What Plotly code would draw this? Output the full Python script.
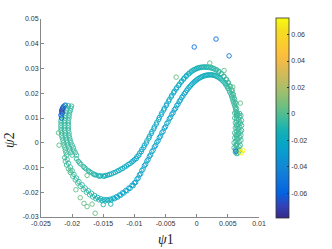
import plotly.graph_objects as go

# ---- data: (psi1, psi2, colour value) ----
left_band_L = [(-0.0212,0.0150,-0.004),(-0.0214,0.0140,-0.005),(-0.0215,0.0130,-0.004),(-0.0216,0.0120,-0.006),(-0.0217,0.0110,-0.004),
               (-0.0217,0.0100,-0.005),(-0.0218,0.0090,-0.003),(-0.0218,0.0080,-0.005),(-0.0218,0.0070,-0.004),(-0.0218,0.0060,-0.006),
               (-0.0218,0.0050,-0.004),(-0.0217,0.0040,-0.005),(-0.0217,0.0030,-0.003),(-0.0216,0.0020,-0.004),(-0.0215,0.0010,-0.005),
               (-0.0214,0.0000,-0.003),(-0.0213,-0.0010,-0.004),(-0.0212,-0.0020,-0.002),(-0.0211,-0.0030,-0.004),(-0.0210,-0.0040,-0.003),(-0.0209,-0.0050,-0.004)]
left_band_C = [(-0.0206,0.0150,-0.006),(-0.0208,0.0140,-0.005),(-0.0209,0.0130,-0.006),(-0.0210,0.0120,-0.005),(-0.0211,0.0110,-0.006),
               (-0.0211,0.0100,-0.005),(-0.0212,0.0090,-0.006),(-0.0212,0.0080,-0.004),(-0.0212,0.0070,-0.005),(-0.0212,0.0060,-0.006),
               (-0.0212,0.0050,-0.005),(-0.0211,0.0040,-0.004),(-0.0211,0.0030,-0.005),(-0.0210,0.0020,-0.006),(-0.0209,0.0010,-0.004),
               (-0.0208,0.0000,-0.005),(-0.0207,-0.0010,-0.005),(-0.0205,-0.0020,-0.004),(-0.0204,-0.0030,-0.005),(-0.0202,-0.0040,-0.004),(-0.0200,-0.0050,-0.005)]
left_band_R = [(-0.0201,0.0148,-0.007),(-0.0202,0.0140,-0.006),(-0.0203,0.0130,-0.007),(-0.0204,0.0120,-0.006),(-0.0205,0.0110,-0.005),
               (-0.0205,0.0100,-0.006),(-0.0206,0.0090,-0.005),(-0.0206,0.0080,-0.006),(-0.0206,0.0070,-0.005),(-0.0206,0.0060,-0.006),
               (-0.0206,0.0050,-0.005),(-0.0205,0.0040,-0.006),(-0.0205,0.0030,-0.005),(-0.0204,0.0020,-0.006),(-0.0203,0.0010,-0.005),
               (-0.0202,0.0000,-0.006),(-0.0200,-0.0010,-0.005),(-0.0198,-0.0020,-0.006),(-0.0197,-0.0030,-0.005),(-0.0195,-0.0040,-0.006),(-0.0193,-0.0050,-0.005)]
start_cluster = [(-0.0216,0.0135,-0.076),(-0.0217,0.0128,-0.072),(-0.0216,0.0121,-0.068),(-0.0215,0.0141,-0.064),
                 (-0.0218,0.0112,-0.060),(-0.0217,0.0100,-0.056),(-0.0214,0.0146,-0.052),(-0.0211,0.0152,-0.048)]

upper_curve = [(-0.0193,-0.0065,-0.004),(-0.0190,-0.0075,-0.005),(-0.0186,-0.0086,-0.004),(-0.0182,-0.0096,-0.006),(-0.0178,-0.0105,-0.005),
               (-0.0174,-0.0113,-0.007),(-0.0170,-0.0120,-0.006),(-0.0166,-0.0126,-0.009),(-0.0162,-0.0130,-0.007),(-0.0158,-0.0133,-0.010),
               (-0.0154,-0.0134,-0.011),(-0.0150,-0.0134,-0.009),(-0.0146,-0.0132,-0.013),(-0.0140,-0.0128,-0.015),(-0.0134,-0.0122,-0.012),
               (-0.0128,-0.0115,-0.017),(-0.0122,-0.0107,-0.015),(-0.0116,-0.0098,-0.019),(-0.0110,-0.0088,-0.017),(-0.0104,-0.0077,-0.021),
               (-0.0100,-0.0068,-0.019),(-0.0096,-0.0056,-0.022),(-0.0092,-0.0042,-0.012),(-0.0088,-0.0027,-0.023),(-0.0084,-0.0010,-0.020),
               (-0.0080,0.0008,-0.008),(-0.0076,0.0026,-0.022),(-0.0072,0.0045,-0.019),(-0.0068,0.0064,-0.023),(-0.0064,0.0083,-0.008),
               (-0.0060,0.0102,-0.021),(-0.0056,0.0121,-0.023),(-0.0052,0.0139,-0.018),(-0.0048,0.0157,-0.022),(-0.0044,0.0175,-0.009),
               (-0.0040,0.0192,-0.021),(-0.0036,0.0208,-0.019),(-0.0032,0.0223,-0.022),(-0.0028,0.0237,-0.008),(-0.0024,0.0250,-0.018),
               (-0.0020,0.0262,-0.012),(-0.0016,0.0273,-0.015),(-0.0012,0.0282,-0.008),(-0.0008,0.0290,-0.012),(-0.0004,0.0296,-0.007),
               (0.0000,0.0301,-0.010),(0.0004,0.0304,-0.006),(0.0008,0.0306,-0.009),(0.0012,0.0307,-0.005),(0.0016,0.0307,-0.008),
               (0.0020,0.0306,-0.004),(0.0024,0.0304,-0.007),(0.0028,0.0300,-0.003),(0.0032,0.0295,-0.006),(0.0036,0.0288,-0.003),
               (0.0040,0.0279,-0.005),(0.0044,0.0268,-0.002),(0.0048,0.0255,-0.004),(0.0051,0.0242,-0.002),(0.0054,0.0227,-0.003),
               (0.0057,0.0210,-0.001),(0.0059,0.0193,-0.003),(0.0061,0.0175,-0.002),(0.0063,0.0157,-0.003),(0.0064,0.0139,-0.002),(0.0065,0.0121,-0.003)]
upper_curve_b = [(-0.0188,-0.0082,-0.006),(-0.0180,-0.0101,-0.007),(-0.0172,-0.0117,-0.009),(-0.0164,-0.0129,-0.011),(-0.0156,-0.0135,-0.013),
                 (-0.0148,-0.0135,-0.015),(-0.0143,-0.0131,-0.017),(-0.0137,-0.0126,-0.019),(-0.0131,-0.0120,-0.017),(-0.0125,-0.0112,-0.021),
                 (-0.0119,-0.0104,-0.019),(-0.0113,-0.0094,-0.023),(-0.0107,-0.0084,-0.021),(-0.0102,-0.0074,-0.024),
                 (-0.0097,-0.0064,-0.025),(-0.0093,-0.0051,-0.023),(-0.0089,-0.0036,-0.026),(-0.0085,-0.0019,-0.024),(-0.0081,-0.0001,-0.027),
                 (-0.0077,0.0018,-0.023),(-0.0073,0.0037,-0.026),(-0.0069,0.0056,-0.024),(-0.0065,0.0075,-0.027),(-0.0061,0.0094,-0.023),
                 (-0.0057,0.0113,-0.026),(-0.0053,0.0132,-0.024),(-0.0049,0.0150,-0.027),(-0.0045,0.0168,-0.023),(-0.0041,0.0185,-0.026),
                 (-0.0037,0.0202,-0.024),(-0.0033,0.0217,-0.025),(-0.0029,0.0231,-0.022),(-0.0025,0.0245,-0.024),(-0.0021,0.0257,-0.020),
                 (-0.0017,0.0268,-0.022),(-0.0013,0.0278,-0.018),(-0.0009,0.0286,-0.020),(-0.0005,0.0293,-0.016),(-0.0001,0.0298,-0.018),
                 (0.0003,0.0302,-0.014),(0.0007,0.0304,-0.015),(0.0011,0.0305,-0.012),(0.0015,0.0305,-0.013),(0.0019,0.0304,-0.010),
                 (0.0023,0.0302,-0.011),(0.0027,0.0299,-0.008),(0.0031,0.0294,-0.009),(0.0035,0.0287,-0.006),(0.0039,0.0279,-0.007),
                 (0.0043,0.0268,-0.004),(0.0047,0.0256,-0.005),(0.0050,0.0244,-0.003),(0.0053,0.0230,-0.004),(0.0056,0.0214,-0.002),
                 (0.0058,0.0198,-0.003),(0.0060,0.0181,-0.002),(0.0062,0.0163,-0.003)]

lower_curve = [(-0.0212,-0.0060,-0.003),(-0.0211,-0.0075,-0.002),(-0.0209,-0.0090,-0.003),(-0.0206,-0.0105,-0.001),(-0.0203,-0.0120,-0.003),
               (-0.0199,-0.0135,-0.002),(-0.0195,-0.0150,-0.004),(-0.0191,-0.0163,-0.002),(-0.0187,-0.0176,-0.004),(-0.0182,-0.0189,-0.003),
               (-0.0177,-0.0200,-0.005),(-0.0172,-0.0210,-0.004),(-0.0167,-0.0219,-0.007),(-0.0162,-0.0226,-0.006),(-0.0157,-0.0231,-0.010),
               (-0.0152,-0.0234,-0.009),(-0.0147,-0.0235,-0.013),(-0.0142,-0.0234,-0.011),(-0.0137,-0.0231,-0.016),(-0.0132,-0.0226,-0.014),
               (-0.0127,-0.0220,-0.019),(-0.0122,-0.0212,-0.017),(-0.0117,-0.0203,-0.021),(-0.0112,-0.0194,-0.019),(-0.0107,-0.0184,-0.023),
               (-0.0102,-0.0173,-0.020),(-0.0098,-0.0160,-0.024),(-0.0094,-0.0143,-0.021),(-0.0090,-0.0125,-0.025),(-0.0086,-0.0106,-0.010),
               (-0.0082,-0.0087,-0.024),(-0.0078,-0.0068,-0.022),(-0.0074,-0.0049,-0.025),(-0.0070,-0.0030,-0.012),(-0.0066,-0.0011,-0.024),
               (-0.0062,0.0008,-0.023),(-0.0058,0.0027,-0.025),(-0.0054,0.0046,-0.021),(-0.0050,0.0065,-0.024),(-0.0046,0.0084,-0.011),
               (-0.0042,0.0103,-0.023),(-0.0038,0.0121,-0.025),(-0.0034,0.0139,-0.022),(-0.0030,0.0156,-0.024),(-0.0026,0.0173,-0.020),
               (-0.0022,0.0189,-0.023),(-0.0018,0.0204,-0.021),(-0.0014,0.0218,-0.022),(-0.0010,0.0230,-0.019),(-0.0006,0.0241,-0.020),
               (-0.0002,0.0250,-0.017),(0.0002,0.0258,-0.018),(0.0006,0.0264,-0.015),(0.0010,0.0269,-0.016),(0.0014,0.0272,-0.013),
               (0.0018,0.0274,-0.014),(0.0022,0.0275,-0.011),(0.0026,0.0274,-0.012),(0.0030,0.0271,-0.009),(0.0034,0.0266,-0.010),
               (0.0038,0.0259,-0.007),(0.0042,0.0250,-0.008),(0.0046,0.0239,-0.005),(0.0049,0.0227,-0.006),(0.0052,0.0213,-0.004),
               (0.0055,0.0197,-0.005),(0.0057,0.0181,-0.003),(0.0059,0.0165,-0.004),(0.0061,0.0149,-0.003),(0.0063,0.0133,-0.004),(0.0064,0.0117,-0.003)]
lower_curve_b = [(-0.0208,-0.0068,-0.005),(-0.0206,-0.0083,-0.006),(-0.0203,-0.0098,-0.005),(-0.0200,-0.0113,-0.006),(-0.0197,-0.0128,-0.005),
                 (-0.0193,-0.0143,-0.007),(-0.0189,-0.0157,-0.006),(-0.0184,-0.0170,-0.008),(-0.0179,-0.0183,-0.007),(-0.0174,-0.0194,-0.009),
                 (-0.0169,-0.0204,-0.008),(-0.0164,-0.0213,-0.011),(-0.0159,-0.0221,-0.013),(-0.0154,-0.0226,-0.015),(-0.0149,-0.0229,-0.017),
                 (-0.0144,-0.0230,-0.019),(-0.0139,-0.0228,-0.021),(-0.0134,-0.0224,-0.022),(-0.0129,-0.0218,-0.024),(-0.0124,-0.0211,-0.025),
                 (-0.0119,-0.0202,-0.026),(-0.0114,-0.0193,-0.024),(-0.0109,-0.0183,-0.027),(-0.0104,-0.0172,-0.025),
                 (-0.0100,-0.0162,-0.028),(-0.0096,-0.0147,-0.024),(-0.0092,-0.0130,-0.029),(-0.0088,-0.0112,-0.026),(-0.0084,-0.0093,-0.029),
                 (-0.0080,-0.0074,-0.025),(-0.0076,-0.0055,-0.029),(-0.0072,-0.0036,-0.027),(-0.0068,-0.0017,-0.030),(-0.0064,0.0002,-0.025),
                 (-0.0060,0.0021,-0.029),(-0.0056,0.0040,-0.027),(-0.0052,0.0059,-0.030),(-0.0048,0.0078,-0.025),(-0.0044,0.0097,-0.029),
                 (-0.0040,0.0115,-0.027),(-0.0036,0.0133,-0.029),(-0.0032,0.0150,-0.025),(-0.0028,0.0167,-0.028),(-0.0024,0.0183,-0.026),
                 (-0.0020,0.0198,-0.027),(-0.0016,0.0212,-0.024),(-0.0012,0.0225,-0.025),(-0.0008,0.0236,-0.022),(-0.0004,0.0246,-0.023),
                 (0.0000,0.0254,-0.020),(0.0004,0.0261,-0.021),(0.0008,0.0266,-0.018),(0.0012,0.0270,-0.019),(0.0016,0.0273,-0.016),
                 (0.0020,0.0274,-0.017),(0.0024,0.0274,-0.014),(0.0028,0.0272,-0.015),(0.0032,0.0268,-0.012),(0.0036,0.0262,-0.013),
                 (0.0040,0.0254,-0.010),(0.0044,0.0244,-0.011),(0.0047,0.0233,-0.008),(0.0050,0.0220,-0.009),(0.0053,0.0205,-0.006),
                 (0.0056,0.0189,-0.007),(0.0058,0.0173,-0.005),(0.0060,0.0157,-0.006),(0.0062,0.0141,-0.005)]

right_band = [(0.0061,0.0120,-0.004),(0.0066,0.0115,-0.003),(0.0071,0.0110,-0.005),(0.0061,0.0100,-0.003),(0.0067,0.0095,-0.004),
              (0.0072,0.0090,-0.003),(0.0062,0.0080,-0.005),(0.0067,0.0075,-0.003),(0.0072,0.0070,-0.004),(0.0062,0.0060,-0.003),
              (0.0067,0.0055,-0.005),(0.0072,0.0050,-0.003),(0.0061,0.0040,-0.004),(0.0066,0.0035,-0.003),(0.0071,0.0030,-0.005),
              (0.0061,0.0020,-0.003),(0.0066,0.0015,-0.004),(0.0071,0.0010,-0.003),(0.0060,0.0000,-0.005),(0.0065,-0.0005,-0.003),
              (0.0070,-0.0010,-0.004),(0.0060,-0.0020,-0.003),(0.0065,-0.0025,-0.005),(0.0069,-0.0030,-0.003),(0.0062,-0.0038,-0.004),
              (0.0066,-0.0042,-0.005),(0.0064,0.0108,-0.004),(0.0064,0.0068,-0.005),(0.0064,0.0028,-0.004),(0.0063,-0.0012,-0.005)]
right_band_b = [(0.0063,0.0125,-0.005),(0.0069,0.0118,-0.004),(0.0064,0.0112,-0.003),(0.0069,0.0104,-0.005),(0.0064,0.0098,-0.004),
                (0.0069,0.0086,-0.003),(0.0064,0.0088,-0.005),(0.0070,0.0078,-0.004),(0.0064,0.0072,-0.003),(0.0069,0.0064,-0.005),
                (0.0065,0.0058,-0.004),(0.0070,0.0044,-0.003),(0.0064,0.0046,-0.005),(0.0068,0.0038,-0.004),(0.0063,0.0032,-0.003),
                (0.0069,0.0022,-0.005),(0.0064,0.0018,-0.004),(0.0068,0.0004,-0.003),(0.0063,0.0006,-0.005),(0.0068,-0.0016,-0.004),
                (0.0063,-0.0008,-0.003),(0.0067,-0.0034,-0.004),(0.0062,-0.0028,-0.005),(0.0064,-0.0044,-0.004)]
end_cluster = [(0.0072,-0.0041,0.0725),(0.0074,-0.0031,0.0700),(0.0070,-0.0036,0.0680),(0.0063,-0.0034,-0.055)]

outliers = [(-0.0004,0.0387,-0.052),(0.0031,0.0419,-0.052),(0.0052,0.0351,-0.050),
            (0.0021,0.0322,0.002),(-0.0033,0.0265,0.004),(0.0044,0.0292,0.003),(0.0058,0.0225,0.004),(0.0070,0.0160,0.003),
            (-0.0163,-0.0285,0.006),(-0.0176,-0.0258,0.005),(-0.0187,-0.0222,0.006),(-0.0194,-0.0190,0.004),
            (-0.0203,-0.0112,0.005),(-0.0176,-0.0132,0.003),(-0.0181,-0.0245,0.005),(-0.0168,-0.0248,0.004),
            (-0.0150,-0.0250,-0.010),(-0.0138,-0.0248,-0.012),(-0.0221,-0.0010,0.003),(-0.0222,0.0040,0.002)]

segments = [left_band_L, left_band_C, left_band_R, upper_curve, upper_curve_b, lower_curve, lower_curve_b,
            right_band, right_band_b, outliers, start_cluster, end_cluster]

x_ticks = [-0.025, -0.02, -0.015, -0.01, -0.005, 0, 0.005, 0.01]
x_ticktext = ['-0.025', '-0.02', '-0.015', '-0.01', '-0.005', '0', '0.005', '0.01']
y_ticks = [-0.03, -0.02, -0.01, 0, 0.01, 0.02, 0.03, 0.04, 0.05]
y_ticktext = ['-0.03', '-0.02', '-0.01', '0', '0.01', '0.02', '0.03', '0.04', '0.05']
cb_ticks = [-0.06, -0.04, -0.02, 0, 0.02, 0.04, 0.06]
cb_ticktext = ['-0.06', '-0.04', '-0.02', '0', '0.02', '0.04', '0.06']
c_min, c_max = -0.0786, 0.0725
x_title = '<i>ψ</i>1'
y_title = '<i>ψ</i>2'

parula = [
    (0.2081, 0.1663, 0.5292), (0.1959, 0.2645, 0.7279), (0.0117, 0.3875, 0.8820), (0.0498, 0.4586, 0.8641),
    (0.0793, 0.5200, 0.8312), (0.0343, 0.5966, 0.8199), (0.0228, 0.6535, 0.7768), (0.0843, 0.6928, 0.7062),
    (0.2586, 0.7317, 0.5954), (0.4420, 0.7481, 0.5033), (0.6098, 0.7473, 0.4337), (0.7525, 0.7384, 0.3768),
    (0.8825, 0.7274, 0.3217), (0.9939, 0.7455, 0.2403), (0.9880, 0.8066, 0.1794), (0.9626, 0.8705, 0.1309),
    (0.9763, 0.9831, 0.0538)]
colorscale = [[i / (len(parula) - 1), 'rgb(%d,%d,%d)' % tuple(round(v * 255) for v in c)] for i, c in enumerate(parula)]

xs, ys, cs = [], [], []
for seg in segments:
    for (a, b, c) in seg:
        xs.append(a); ys.append(b); cs.append(c)

fig = go.Figure(go.Scatter(
    x=xs, y=ys, mode='markers',
    marker=dict(symbol='circle-open', size=4.5, color=cs, colorscale=colorscale,
                cmin=c_min, cmax=c_max, line=dict(width=0.9),
                colorbar=dict(thickness=13, lenmode='pixels', len=200, x=1.078, xanchor='left', xpad=0, ypad=0,
                              y=0.5, yanchor='middle', outlinecolor='#333', outlinewidth=0.8,
                              tickvals=cb_ticks, ticktext=cb_ticktext, ticks='inside', ticklen=2,
                              tickcolor='#333', tickfont=dict(family='Liberation Sans', size=7, color='#333'))),
    showlegend=False))

axis_common = dict(showline=True, linecolor='#888', linewidth=1, ticks='inside', ticklen=3, tickcolor='#888',
                   showgrid=False, zeroline=False, automargin=False,
                   tickfont=dict(family='Liberation Sans', size=7, color='#333'))
fig.update_layout(
    width=332, height=249, margin=dict(l=41, r=73, t=19, b=32, autoexpand=False),
    paper_bgcolor='white', plot_bgcolor='white',
    xaxis=dict(range=[-0.025, 0.01], tickvals=x_ticks, ticktext=x_ticktext, **axis_common),
    yaxis=dict(range=[-0.03, 0.05], tickvals=y_ticks, ticktext=y_ticktext, **axis_common),
    annotations=[
        dict(text=x_title, xref='paper', yref='paper', x=0.573, y=-0.116, xanchor='center', yanchor='middle',
             showarrow=False, font=dict(family='Liberation Serif', size=14, color='#222')),
        dict(text=y_title, xref='paper', yref='paper', x=-0.142, y=0.389, xanchor='center', yanchor='middle',
             textangle=-90, showarrow=False, font=dict(family='Liberation Serif', size=14, color='#222')),
    ],
)
fig.write_html('out.html', config={'displayModeBar': False},
               post_script="document.body.style.margin='0';document.body.style.overflow='hidden';")
